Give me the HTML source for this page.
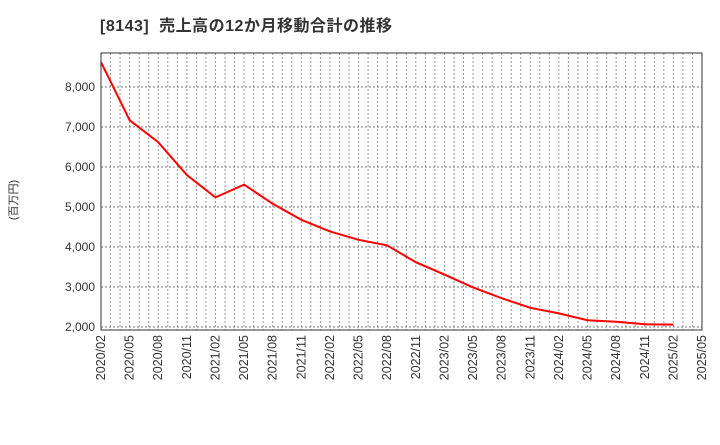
<!DOCTYPE html>
<html><head><meta charset="utf-8"><style>
body{margin:0;background:#fff;}
svg text{font-family:"Liberation Sans","Noto Sans CJK JP",sans-serif;}
</style></head><body>
<svg width="720" height="440" id="c">
<text x="100" y="31" font-size="16" font-weight="bold" fill="#333" xml:space="preserve" letter-spacing="0.5">[8143]  売上高の12か月移動合計の推移</text>
<text transform="translate(17,200) rotate(-90)" font-size="11" fill="#333" text-anchor="middle">(百万円)</text>
<g id="grid"></g><g id="ticks"></g><g id="series"></g>
<rect x="101" y="53" width="601" height="277" fill="none" stroke="#333" stroke-width="1"/>
</svg>
<script>
const xLabels=["2020/02","2020/05","2020/08","2020/11","2021/02","2021/05","2021/08","2021/11","2022/02","2022/05","2022/08","2022/11","2023/02","2023/05","2023/08","2023/11","2024/02","2024/05","2024/08","2024/11","2025/02","2025/05"];
const yTicks=[2000,3000,4000,5000,6000,7000,8000];
const values=[8620,7170,6620,5800,5240,5560,5080,4680,4390,4180,4040,3620,3310,2990,2720,2480,2340,2170,2130,2070,2060];
const NS="http://www.w3.org/2000/svg";
const L=101,R=702,T=53,B=330;
const x=i=>L+i*(R-L)/(xLabels.length-1);
const y=v=>327-(v-2000)*0.04;
function mk(tag,attrs,parent){const e=document.createElementNS(NS,tag);for(const k in attrs)e.setAttribute(k,attrs[k]);parent.appendChild(e);return e;}
const grid=document.getElementById('grid'),ticks=document.getElementById('ticks'),series=document.getElementById('series');
const nm=(xLabels.length-1)*3;
for(let m=1;m<nm;m++){const xx=L+m*(R-L)/nm;
const g=mk('line',{x1:xx,x2:xx,y1:T,y2:B,stroke:'#999','stroke-dasharray':'2,2','stroke-width':1},grid);

}
yTicks.forEach(v=>{const yy=y(v);
const g=mk('line',{x1:L,x2:R,y1:yy,y2:yy,stroke:'#777','stroke-dasharray':'2,2','stroke-width':1},grid);


const t=mk('text',{x:L-6,y:yy+4,'font-size':12,'text-anchor':'end',fill:'#333'},ticks);t.textContent=v.toLocaleString('en-US');

});
xLabels.forEach((s,i)=>{const xx=x(i);
const t=mk('text',{transform:`translate(${xx+4},${B+5}) rotate(-90)`,'font-size':12.5,'text-anchor':'end',fill:'#333'},ticks);t.textContent=s;

});
const p=mk('polyline',{points:values.map((v,i)=>x(i)+','+y(v)).join(' '),fill:'none',stroke:'#f00','stroke-width':2},series);


</script>
</body></html>
